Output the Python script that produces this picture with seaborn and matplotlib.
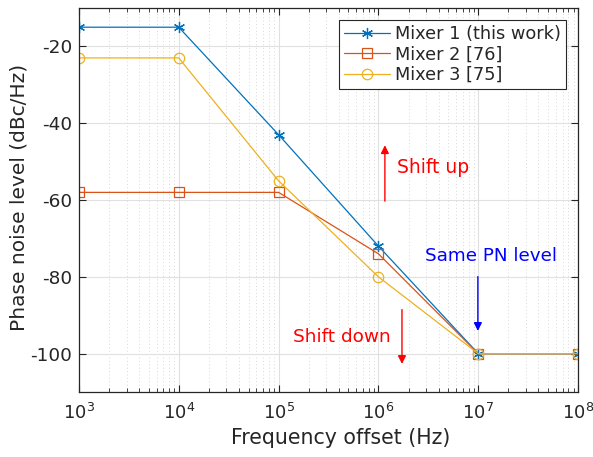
import matplotlib
matplotlib.use("Agg")
import matplotlib.pyplot as plt
import seaborn as sns
import pandas as pd
import numpy as np
from matplotlib.ticker import LogLocator, NullFormatter, FixedLocator

freq = [1e3, 1e4, 1e5, 1e6, 1e7, 1e8]
mixer1 = [-15, -15, -43, -72, -100, -100]
mixer2 = [-58, -58, -58, -74, -100, -100]
mixer3 = [-23, -23, -55, -80, -100, -100]
labels = ["Mixer 1 (this work)", "Mixer 2 [76]", "Mixer 3 [75]"]
colors = ["#0072BD", "#D95319", "#EDB120"]
markers = [(6, 2, 0), "s", "o"]
yticks = [-100, -80, -60, -40, -20]

sns.set_theme(style="white")
plt.rcParams['font.family'] = ['DejaVu Sans']
plt.rcParams['axes.unicode_minus'] = False
plt.rcParams['mathtext.fontset'] = 'dejavusans'

fig = plt.figure(figsize=(5.93, 4.57), dpi=100)
ax = fig.add_axes([0.133, 0.142, 0.842, 0.8405])

sizes = [8, 6.5, 7.5]
for vals, lab, c, m, ms in zip([mixer1, mixer2, mixer3], labels, colors, markers, sizes):
    df = pd.DataFrame({"f": freq, "pn": vals})
    sns.lineplot(data=df, x="f", y="pn", ax=ax, color=c, marker=m,
                 markersize=ms,
                 markerfacecolor="none",
                 markeredgecolor=c, markeredgewidth=0.9,
                 linewidth=0.9, label=lab)

ax.set_xscale("log")
ax.set_xlim(1e3, 1e8)
ax.set_ylim(-110, -10)
ax.yaxis.set_major_locator(FixedLocator(yticks))
ax.xaxis.set_major_locator(LogLocator(base=10, numticks=10))
ax.xaxis.set_minor_locator(LogLocator(base=10, subs=np.arange(2, 10), numticks=100))
ax.xaxis.set_minor_formatter(NullFormatter())

ax.grid(True, which="major", color="#e0e0e0", linewidth=0.8)
ax.grid(True, which="minor", axis="x", color="#d8d8d8", linestyle=(0, (1, 2.5)), linewidth=0.7)
ax.set_axisbelow(True)

ax.tick_params(which="both", direction="in", top=True, right=True, bottom=True, left=True,
               colors="#262626", labelsize=13.3, labelcolor="#262626")
ax.tick_params(axis="x", pad=8, labelsize=13)
ax.tick_params(axis="y", pad=5)
ax.tick_params(which="major", length=5, width=0.8)
ax.tick_params(which="minor", length=3, width=0.6)
for s in ax.spines.values():
    s.set_color("#262626")
    s.set_linewidth(0.9)

ax.set_xlabel("Frequency offset (Hz)", fontsize=14.8, color="#262626")
ax.set_ylabel("Phase noise level (dBc/Hz)", fontsize=14.5, color="#262626")
ax.xaxis.set_label_coords(0.525, -0.094)
ax.yaxis.set_label_coords(-0.100, 0.508)

leg = ax.legend(loc="upper right", fontsize=12.8, frameon=True, fancybox=False,
                edgecolor="#262626", framealpha=1, borderpad=0.25, labelspacing=0.15,
                handlelength=2.6, handletextpad=0.3, borderaxespad=0.7)
leg.get_frame().set_linewidth(0.8)

# annotations
ax.annotate("", xy=(1.16e6, -45), xytext=(1.16e6, -61),
            arrowprops=dict(arrowstyle="-|>", color="red", lw=1.0, mutation_scale=12))
ax.text(1.55e6, -51.4, "Shift up", color="red", fontsize=13.5, va="center", ha="left")

ax.annotate("", xy=(1.72e6, -103.4), xytext=(1.72e6, -87.8),
            arrowprops=dict(arrowstyle="-|>", color="red", lw=1.0, mutation_scale=12))
ax.text(4.3e5, -95.6, "Shift down", color="red", fontsize=13.3, va="center", ha="center")

ax.annotate("", xy=(0.99e7, -94.8), xytext=(0.99e7, -79.2),
            arrowprops=dict(arrowstyle="-|>", color="blue", lw=1.0, mutation_scale=12))
ax.text(1.35e7, -74.5, "Same PN level", color="blue", fontsize=13.2, va="center", ha="center")

fig.savefig("out.png", dpi=100)
